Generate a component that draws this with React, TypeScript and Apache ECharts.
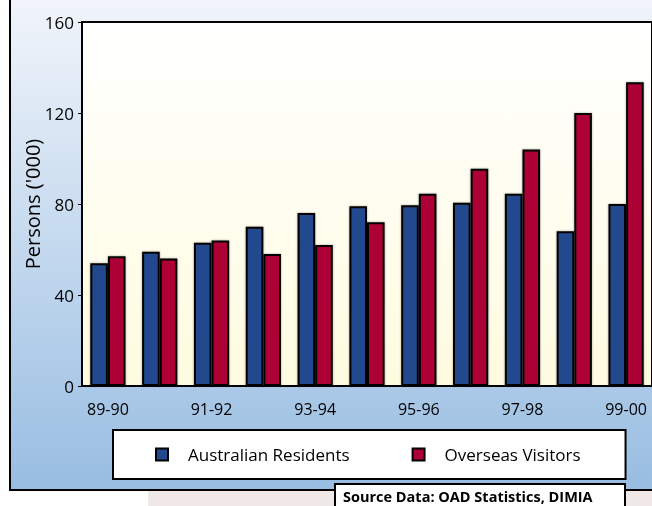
import React, { useEffect, useRef } from "react";
import * as echarts from "echarts";

const categories = ["89-90", "90-91", "91-92", "92-93", "93-94", "94-95", "95-96", "96-97", "97-98", "98-99", "99-00"];
const residents = [54, 59, 63, 70, 76, 79, 79.5, 80.5, 84.5, 68, 80];
const visitors = [57, 56, 64, 58, 62, 72, 84.5, 95.5, 104, 120, 133.5];
const yTicks = { min: 0, max: 160, interval: 40 };

const FONT = "'Open Sans', 'Noto Sans', sans-serif";

export default function App() {
  const ref = useRef<HTMLDivElement>(null);
  useEffect(() => {
    if (!ref.current) return;
    const chart = echarts.init(ref.current, null, { renderer: "svg" });
    chart.setOption({
      animation: false,
      textStyle: { fontFamily: FONT },
      graphic: [
        {
          type: "rect",
          z: -100,
          shape: { x: 10, y: -10, width: 660, height: 500 },
          style: {
            fill: new echarts.graphic.LinearGradient(0, 0, 0, 1, [
              { offset: 0, color: "#f3f6fb" },
              { offset: 1, color: "#98bde2" },
            ]),
            stroke: "#000",
            lineWidth: 2,
          },
        },
        {
          type: "rect",
          z: -100,
          shape: { x: 148, y: 491, width: 504, height: 15 },
          style: { fill: "#efe8e6" },
        },
        {
          type: "group",
          z: 100,
          children: [
            {
              type: "rect",
              z: 100,
              shape: { x: 335, y: 484, width: 290, height: 30 },
              style: { fill: "#fff", stroke: "#000", lineWidth: 2 },
            },
            {
              type: "text",
              z: 101,
              x: 343,
              y: 496,
              style: {
                text: "Source Data: OAD Statistics, DIMIA",
                font: `bold 14.5px ${FONT}`,
                fill: "#000",
                textVerticalAlign: "middle",
              },
            },
          ],
        },
      ],
      grid: {
        left: 82,
        top: 22,
        right: 0,
        bottom: 120,
        show: true,
        backgroundColor: new echarts.graphic.LinearGradient(0, 0, 0, 1, [
          { offset: 0, color: "#ffffff" },
          { offset: 1, color: "#fffbe0" },
        ]),
        borderColor: "#000",
        borderWidth: 2,
      },
      legend: {
        left: 113,
        top: 430,
        orient: "horizontal",
        backgroundColor: "#fff",
        borderColor: "#000",
        borderWidth: 2,
        borderRadius: 0,
        padding: [16, 45, 16, 42],
        itemGap: 62,
        itemWidth: 12,
        itemHeight: 12,
        icon: "rect",
        textStyle: { fontSize: 17, color: "#000", padding: [0, 0, 0, 15], fontFamily: FONT },
        data: ["Australian Residents", "Overseas Visitors"],
      },
      xAxis: {
        type: "category",
        data: categories,
        axisLine: { lineStyle: { color: "#000", width: 2 } },
        axisTick: { show: false },
        axisLabel: { interval: 1, margin: 15, fontSize: 16, color: "#000" },
      },
      yAxis: {
        type: "value",
        min: yTicks.min,
        max: yTicks.max,
        interval: yTicks.interval,
        name: "Persons ('000)",
        nameLocation: "middle",
        nameGap: 40,
        nameMoveOverlap: false,
        nameTextStyle: { fontSize: 20, color: "#000" },
        splitLine: { show: false },
        axisLine: { show: true, lineStyle: { color: "#000", width: 2 } },
        axisTick: { show: true, length: 4, lineStyle: { color: "#000", width: 1 } },
        axisLabel: { fontSize: 17, color: "#000", margin: 8 },
      },
      series: [
        {
          name: "Australian Residents",
          type: "bar",
          data: residents,
          barGap: "0%",
          barCategoryGap: "32%",
          itemStyle: {
            color: "#23488e",
            borderColor: "#000",
            borderWidth: 2,
            shadowColor: "rgba(0,0,0,0.35)",
            shadowBlur: 2,
          },
        },
        {
          name: "Overseas Visitors",
          type: "bar",
          data: visitors,
          barGap: "0%",
          barCategoryGap: "32%",
          itemStyle: {
            color: "#ad0036",
            borderColor: "#000",
            borderWidth: 2,
            shadowColor: "rgba(0,0,0,0.35)",
            shadowBlur: 2,
          },
        },
      ],
    });
    return () => chart.dispose();
  }, []);
  return (
    <div
      ref={ref}
      style={{ position: "fixed", left: 0, top: 0, width: 652, height: 506 }}
    />
  );
}
